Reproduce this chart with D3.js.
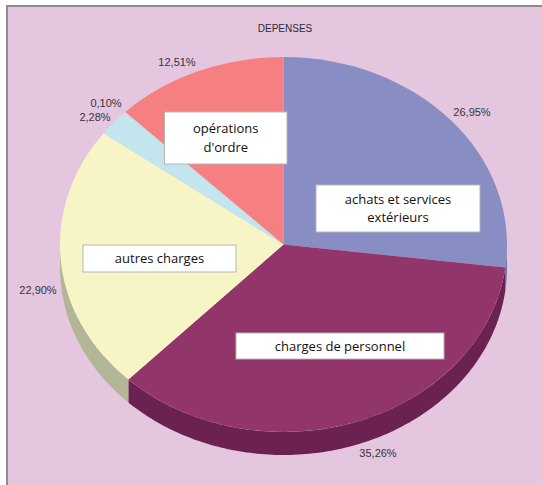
<!DOCTYPE html>
<html>
<head>
<meta charset="utf-8">
<script src="https://cdn.jsdelivr.net/npm/d3@7"></script>
<style>
  html, body { margin: 0; padding: 0; background: #fff; }
  svg { display: block; }
</style>
</head>
<body>
<svg id="chart"></svg>
<script>
const categories = ["achats et services extérieurs", "charges de personnel", "autres charges", "divers 1", "divers 2", "opérations d'ordre"];
const values = [26.95, 35.26, 22.90, 2.28, 0.10, 12.51];
const percentLabels = ["26,95%", "35,26%", "22,90%", "2,28%", "0,10%", "12,51%"];
const title = "DEPENSES";

let width = 542;
let height = 485;
let cx = 283.5;
let cy = 244.5;
let rx = 223.5;
let ry = 187.5;
let depth = 23;

let topColors = ["#888ec4", "#92356a", "#f7f5c6", "#c2e5ee", "#c2e5ee", "#f67f82"];
let sideColors = ["#6a72ad", "#6b2250", "#b3b696", "#9dbcc4", "#9dbcc4", "#c46568"];

// where the percent labels and white boxes sit, same order as categories
let percentPos = [[472, 112], [378, 453], [38, 290], [95, 117], [106, 103], [177, 62]];
let boxes = [
  { x: 316, y: 185, w: 164, h: 47, lines: ["achats et services", "extérieurs"] },
  { x: 236, y: 333, w: 208, h: 26, lines: ["charges de personnel"] },
  { x: 83, y: 245, w: 153, h: 27, lines: ["autres charges"] },
  { x: 164.5, y: 112, w: 122.5, h: 52, lines: ["opérations", "d'ordre"] },
];

let svg = d3.select("#chart").attr("width", width).attr("height", height);

svg.append("rect").attr("width", width).attr("height", height).attr("fill", "#fff");
svg
  .append("rect")
  .attr("x", 7)
  .attr("y", 6)
  .attr("width", width)
  .attr("height", height)
  .attr("fill", "#e5c6df")
  .attr("stroke", "#8f8c8e")
  .attr("stroke-width", 2);

let pie = d3.pie().sort(null).value((d) => d);
let slices = pie(values);

let g = svg.append("g").attr("transform", `translate(${cx},${cy})`);

// unit scales squash the circle into the tilted ellipse
let xScale = d3.scaleLinear().domain([-1, 1]).range([-rx, rx]);
let yScale = d3.scaleLinear().domain([-1, 1]).range([-ry, ry]);

let wall = d3
  .area()
  .x((a) => xScale(Math.sin(a)))
  .y0((a) => yScale(-Math.cos(a)))
  .y1((a) => yScale(-Math.cos(a)) + depth);

// only the front half of the rim is visible
slices.forEach((s, i) => {
  let a0 = Math.max(s.startAngle, Math.PI / 2);
  let a1 = Math.min(s.endAngle, (3 * Math.PI) / 2);
  if (a1 <= a0) return;
  let n = Math.ceil((a1 - a0) * 60);
  let angles = d3.range(n + 1).map((k) => a0 + ((a1 - a0) * k) / n);
  g.append("path").attr("d", wall(angles)).attr("fill", sideColors[i]);
});

let arc = d3.arc().innerRadius(0).outerRadius(rx);

g.append("g")
  .attr("transform", `scale(1,${ry / rx})`)
  .selectAll("path")
  .data(slices)
  .join("path")
  .attr("d", arc)
  .attr("fill", (d, i) => topColors[i]);

svg
  .append("text")
  .attr("x", 285)
  .attr("y", 32)
  .attr("text-anchor", "middle")
  .style("font", "10px 'Liberation Sans', sans-serif")
  .attr("fill", "#2a2a3a")
  .text(title);

svg
  .selectAll(".pct")
  .data(percentLabels)
  .join("text")
  .attr("class", "pct")
  .attr("x", (d, i) => percentPos[i][0])
  .attr("y", (d, i) => percentPos[i][1] + 4)
  .attr("text-anchor", "middle")
  .style("font", "11px 'Liberation Sans', sans-serif")
  .attr("fill", "#333340")
  .text((d) => d);

let box = svg.selectAll(".box").data(boxes).join("g").attr("class", "box");

box
  .append("rect")
  .attr("x", (d) => d.x)
  .attr("y", (d) => d.y)
  .attr("width", (d) => d.w)
  .attr("height", (d) => d.h)
  .attr("fill", "#fff")
  .attr("stroke", "#b5b5b5")
  .attr("stroke-width", 1);

box
  .selectAll("text")
  .data((d) =>
    d.lines.map((t, i) => ({
      t: t,
      x: d.x + d.w / 2,
      y: d.y + d.h / 2 + (i - (d.lines.length - 1) / 2) * 18.5 + 4.5,
    }))
  )
  .join("text")
  .attr("x", (d) => d.x)
  .attr("y", (d) => d.y)
  .attr("text-anchor", "middle")
  .style("font", "13px 'Open Sans', sans-serif")
  .attr("fill", "#111")
  .text((d) => d.t);
</script>
</body>
</html>
